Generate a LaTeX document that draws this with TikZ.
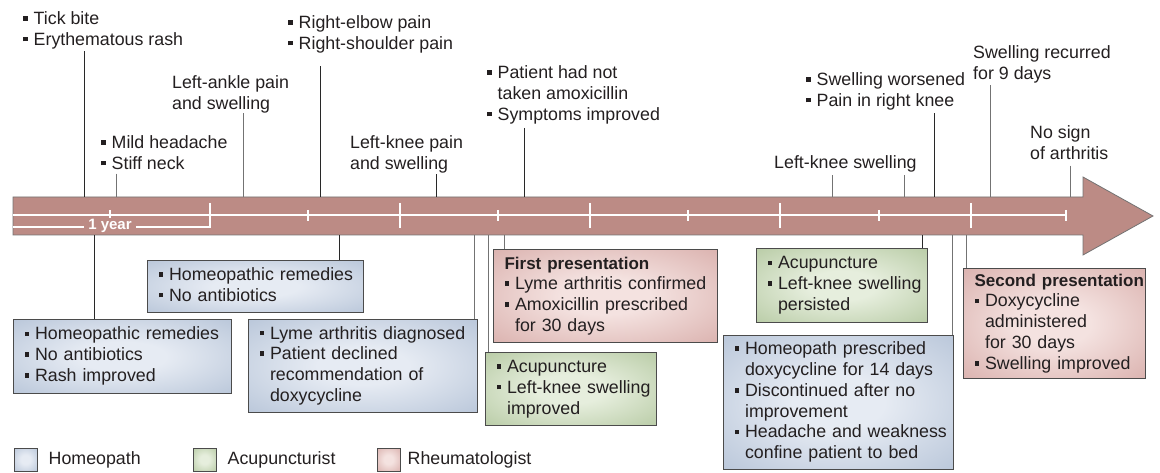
\documentclass[tikz,border=0pt]{standalone}
\usepackage{fontspec}
\setmainfont{Liberation Sans}
\usetikzlibrary{positioning}

\definecolor{arrowrose}{RGB}{188,139,133}
\definecolor{homeoout}{RGB}{165,182,206}
\definecolor{homeoin}{RGB}{230,235,243}
\definecolor{acuout}{RGB}{164,188,141}
\definecolor{acuin}{RGB}{230,238,221}
\definecolor{rheumout}{RGB}{207,156,152}
\definecolor{rheumin}{RGB}{244,226,224}
\definecolor{boxline}{RGB}{75,75,75}
\definecolor{inktext}{RGB}{35,31,32}
\definecolor{leaddark}{RGB}{40,40,40}
\definecolor{leadgray}{RGB}{115,115,115}

\pgfdeclareradialshading{homeoglow}{\pgfpointorigin}{%
  color(0bp)=(homeoin); color(10bp)=(homeoin); color(48bp)=(homeoout); color(50bp)=(homeoout)}
\pgfdeclareradialshading{acuglow}{\pgfpointorigin}{%
  color(0bp)=(acuin); color(10bp)=(acuin); color(48bp)=(acuout); color(50bp)=(acuout)}
\pgfdeclareradialshading{rheumglow}{\pgfpointorigin}{%
  color(0bp)=(rheumin); color(10bp)=(rheumin); color(48bp)=(rheumout); color(50bp)=(rheumout)}

\newcommand{\bl}{\makebox[10.5pt][l]{\rule[3.8pt]{4.6pt}{4.6pt}}}
\newcommand{\ind}{\hspace*{10.5pt}}
\newcommand{\rows}[1]{\begin{tabular}{@{}l@{}}#1\end{tabular}}
\newcommand{\ttl}[1]{{\fontsize{17}{20.8}\selectfont\bfseries #1}}

\begin{document}
\begin{tikzpicture}[x=1pt, y=-1pt, line join=miter,
  every node/.style={font=\fontsize{17.8}{20.8}\selectfont, text=inktext},
  evtext/.style={align=left, inner sep=0pt, anchor=north west},
  card/.style={draw=boxline, line width=1.1pt, anchor=north west,
               inner xsep=11pt, inner ysep=0pt, shade},
  homeo/.style={card, shading=homeoglow},
  acu/.style={card, shading=acuglow},
  rheum/.style={card, shading=rheumglow},
  lead/.style={draw=leaddark, line width=0.9pt},
  leadlight/.style={draw=leadgray, line width=0.9pt},
  scaleline/.style={draw=white, line width=1.3pt},
  swatch/.style={draw=boxline, line width=1pt, minimum size=23pt,
                 inner sep=0pt, shade}]

  \useasboundingbox (0,0) rectangle (1160,473);

  % ── time arrow ────────────────────────────────────────────────────────────

  \draw[fill=arrowrose, draw=black!55, line width=0.8pt]
    (13,197) -- (1083,197) -- (1083,177) -- (1153,216)
    -- (1083,255) -- (1083,235) -- (13,235) -- cycle;

  \draw[scaleline] (13,215) -- (1066,215);
  \foreach \x in {210,400,590,780,971}
    \draw[scaleline] (\x,203) -- (\x,228);
  \foreach \x in {110,308,498,688,879,1066}
    \draw[scaleline] (\x,210) -- (\x,221);

  % one-year bracket
  \draw[scaleline] (13,227) -- (210,227);
  \node[font=\fontsize{15}{16}\selectfont\bfseries, text=white,
        fill=arrowrose, inner xsep=4pt, inner ysep=1pt] (year) at (110,226) {1 year};

  % event points on the arrow
  \coordinate (ttick)   at (84,197);
  \coordinate (thead)   at (116,197);
  \coordinate (tankle)  at (243,197);
  \coordinate (telbow)  at (320,197);
  \coordinate (tknee)   at (436,197);
  \coordinate (tamox)   at (524,197);
  \coordinate (tswellA) at (832,197);
  \coordinate (tswellB) at (904,197);
  \coordinate (tworse)  at (934,197);
  \coordinate (trecur)  at (990,197);
  \coordinate (tnosign) at (1070,197);

  \coordinate (bhomA)   at (94,235);
  \coordinate (bhomB)   at (339,235);
  \coordinate (bhomC)   at (474,235);
  \coordinate (bacuD)   at (488,235);
  \coordinate (brhFirst) at (504,235);
  \coordinate (bacuE)   at (922,235);
  \coordinate (bhomF)   at (952,235);
  \coordinate (brhSecond) at (966,235);

  % ── symptoms above the arrow ──────────────────────────────────────────────

  \node[evtext] (tick) at (23,11.4) {\bl Tick bite\\ \bl Erythematous rash};
  \node[evtext] (head) at (101,135.4) {\bl Mild headache\\ \bl Stiff neck};
  \node[evtext] (ankle) at (172,75.4) {Left-ankle pain\\ and swelling};
  \node[evtext] (elbow) at (288,15.4) {\bl Right-elbow pain\\ \bl Right-shoulder pain};
  \node[evtext] (kneepain) at (350,135.4) {Left-knee pain\\ and swelling};
  \node[evtext] (amox) at (487,65.4)
    {\bl Patient had not\\ \ind taken amoxicillin\\ \bl Symptoms improved};
  \node[evtext] (kneeswell) at (774,155.4) {Left-knee swelling};
  \node[evtext] (worse) at (806,72.4) {\bl Swelling worsened\\ \bl Pain in right knee};
  \node[evtext] (recur) at (973,45.4) {Swelling recurred\\ for 9 days};
  \node[evtext] (nosign) at (1030,125.4) {No sign\\ of arthritis};

  \draw[lead, shorten <=2pt] (tick.south -| ttick) -- (ttick);
  \draw[leadlight, shorten <=4pt] (head.south -| thead) -- (thead);
  \draw[leadlight] (ankle.south -| tankle) -- (tankle);
  \draw[lead, shorten <=13pt] (elbow.south -| telbow) -- (telbow);
  \draw[lead, shorten <=1pt] (kneepain.south -| tknee) -- (tknee);
  \draw[lead, shorten <=4pt] (amox.south -| tamox) -- (tamox);
  \draw[leadlight, shorten <=3pt] (kneeswell.south -| tswellA) -- (tswellA);
  \draw[leadlight, shorten <=3pt] (kneeswell.south -| tswellB) -- (tswellB);
  \draw[lead, shorten <=3pt] (worse.south -| tworse) -- (tworse);
  \draw[leadlight, shorten <=2pt] (recur.south -| trecur) -- (trecur);
  \draw[leadlight, shorten <=6pt] (nosign.south -| tnosign) -- (tnosign);

  % ── treatment boxes below the arrow ───────────────────────────────────────

  \node[homeo, minimum width=218pt, minimum height=74pt, text width=196pt]
    (homA) at (13,319)
    {\rows{\bl Homeopathic remedies\\ \bl No antibiotics\\ \bl Rash improved}};

  \node[homeo, minimum width=216pt, minimum height=52pt, text width=194pt]
    (homB) at (147,260)
    {\rows{\bl Homeopathic remedies\\ \bl No antibiotics}};

  \node[homeo, minimum width=229pt, minimum height=93pt, text width=207pt]
    (homC) at (248,319)
    {\rows{\bl Lyme arthritis diagnosed\\ \bl Patient declined\\
           \ind recommendation of\\ \ind doxycycline}};

  \node[rheum, minimum width=224pt, minimum height=93pt, text width=202pt]
    (rhFirst) at (493,249)
    {\rows{\ttl{First presentation}\\ \bl Lyme arthritis confirmed\\
           \bl Amoxicillin prescribed\\ \ind for 30 days}};

  \node[acu, minimum width=171pt, minimum height=73pt, text width=149pt]
    (acuD) at (485,352)
    {\rows{\bl Acupuncture\\ \bl Left-knee swelling\\ \ind improved}};

  \node[acu, minimum width=171pt, minimum height=74pt, text width=149pt]
    (acuE) at (756,248)
    {\rows{\bl Acupuncture\\ \bl Left-knee swelling\\ \ind persisted}};

  \node[homeo, minimum width=230pt, minimum height=134pt, text width=208pt]
    (homF) at (723,335)
    {\rows{\bl Homeopath prescribed\\ \ind doxycycline for 14 days\\
           \bl Discontinued after no\\ \ind improvement\\
           \bl Headache and weakness\\ \ind confine patient to bed}};

  \node[rheum, minimum width=182pt, minimum height=110pt, text width=160pt]
    (rhSecond) at (963,268)
    {\rows{\ttl{Second presentation}\\ \bl Doxycycline\\ \ind administered\\
           \ind for 30 days\\ \bl Swelling improved}};

  \draw[lead] (bhomA) -- (homA.north -| bhomA);
  \draw[lead] (bhomB) -- (homB.north -| bhomB);
  \draw[leadlight] (bhomC) -- (homC.north -| bhomC);
  \draw[leadlight] (bacuD) -- (acuD.north -| bacuD);
  \draw[leadlight] (brhFirst) -- (rhFirst.north -| brhFirst);
  \draw[lead] (bacuE) -- (acuE.north -| bacuE);
  \draw[leadlight] (bhomF) -- (homF.north -| bhomF);
  \draw[leadlight] (brhSecond) -- (rhSecond.north -| brhSecond);

  % ── legend ────────────────────────────────────────────────────────────────

  \node[swatch, shading=homeoglow] (swHomeo) at (25.5,459.5) {};
  \node[right=11pt of swHomeo, inner sep=0pt] (lgHomeo) {Homeopath};
  \node[swatch, shading=acuglow] (swAcu) at (204.5,459.5) {};
  \node[right=11pt of swAcu, inner sep=0pt] (lgAcu) {Acupuncturist};
  \node[swatch, shading=rheumglow] (swRheum) at (388.5,459.5) {};
  \node[right=7pt of swRheum, inner sep=0pt] (lgRheum) {Rheumatologist};

\end{tikzpicture}
\end{document}
